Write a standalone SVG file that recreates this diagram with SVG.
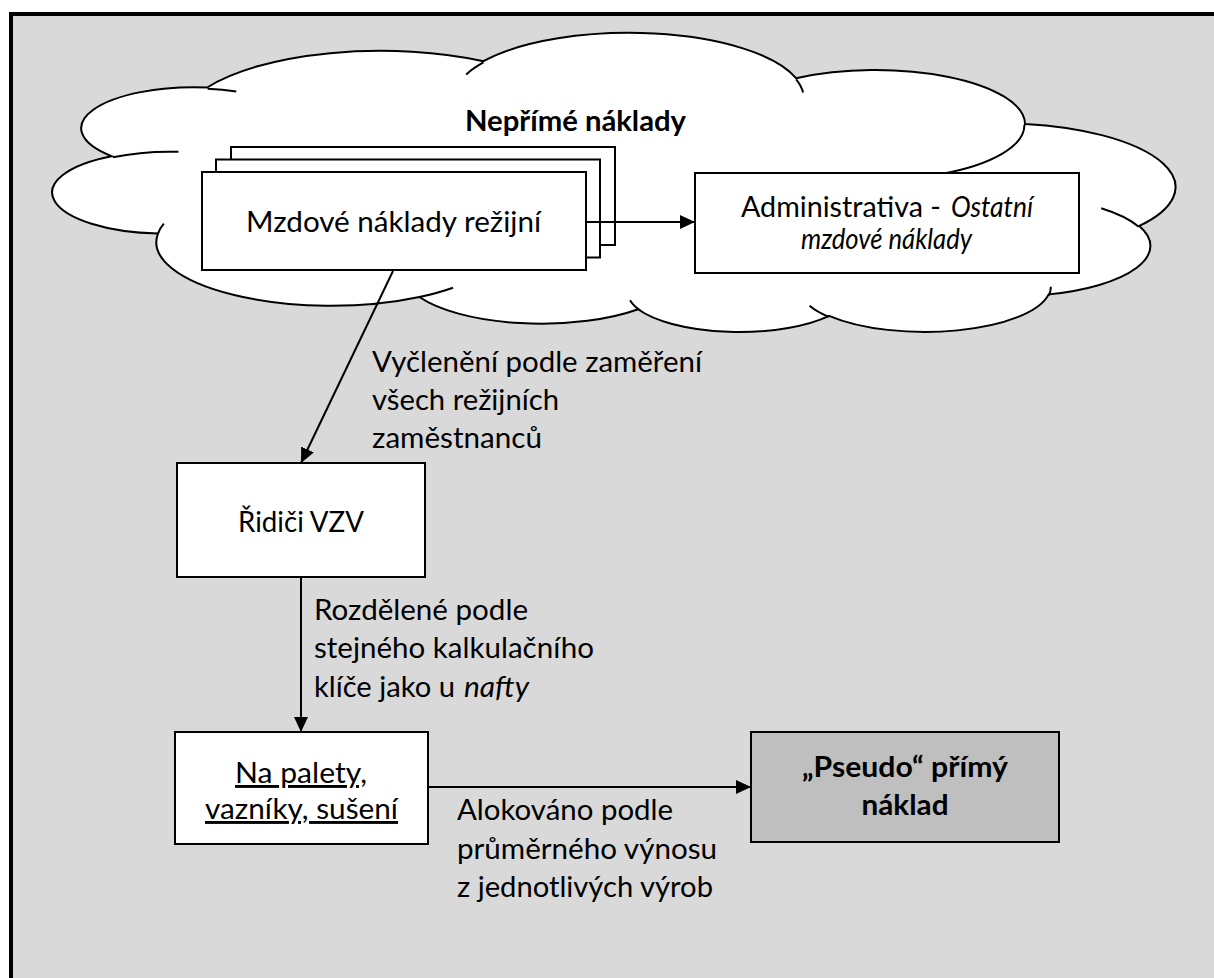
<svg xmlns="http://www.w3.org/2000/svg" width="1214" height="978" viewBox="0 0 1214 978">
  <defs>
    <style>
      .t { font-family: Lato, "Liberation Sans", sans-serif; font-size: 29px; fill: #000; }
      .b { font-weight: 700; }
      .i { font-style: italic; }
      .box { fill: #fff; stroke: #000; stroke-width: 2; }
      .grey { fill: #bfbfbf; stroke: #000; stroke-width: 2; }
      .link { fill: none; stroke: #000; stroke-width: 2; }
      .cloud { fill: #fff; stroke: #000; stroke-width: 2; vector-effect: non-scaling-stroke; }
      .tick { fill: none; stroke: #000; stroke-width: 2; vector-effect: non-scaling-stroke; }
    </style>
    <marker id="arrow" markerUnits="userSpaceOnUse" markerWidth="15" markerHeight="14" refX="15" refY="7" orient="auto">
      <path d="M0,0 L15,7 L0,14 Z" fill="#000"/>
    </marker>
  </defs>

  <!-- page frame -->
  <rect x="0" y="0" width="1214" height="978" fill="#fff"/>
  <rect x="11" y="14" width="1230" height="990" fill="#d9d9d9" stroke="#000" stroke-width="4"/>

  <!-- cloud of indirect costs -->
  <g id="cloud">
    <g transform="translate(57,333) scale(0.025880,-0.0069213)">
      <path class="cloud" d="M3900,14370 A6753,9190 0 0 1 14005,5202 A5333,7267 0 0 1 22457,3433 A4365,5945 0 0 1 29834,2482 A4857,6595 0 0 1 38318,5580 A5333,7273 0 0 1 41818,15464 A6775,9220 0 0 1 37404,30207 A5785,7867 0 0 1 28556,36817 A6752,9215 0 0 1 16478,39264 A7720,10543 0 0 1 5802,35469 A4360,5918 0 0 1 2110,25549 A4345,5945 0 0 1 3900,14370 Z"/>
      <path class="tick" d="M4693,26177 A4345,5945 0 0 1 2159,25379 M6928,34899 A4360,5918 0 0 1 5820,35281 M16478,39090 A6752,9215 0 0 1 15812,37353 M28827,34751 A6752,9215 0 0 1 28560,36660 M34129,22954 A5785,7867 0 0 1 37380,30090 M41798,15354 A5333,7273 0 0 1 40350,18030 M38324,5426 A4857,6595 0 0 1 38400,6689 M29078,3952 A4857,6595 0 0 1 29821,2338 M22141,4720 A4365,5945 0 0 1 22529,3252 M14000,5192 A6753,9190 0 0 1 15302,6543 M4127,15789 A6753,9190 0 0 1 3900,14371"/>
    </g>
    <text class="t b" x="575.5" y="131" text-anchor="middle" textLength="221" lengthAdjust="spacingAndGlyphs">Nepřímé náklady</text>
  </g>

  <!-- overhead wages (stacked) -->
  <g id="mzdove">
    <rect class="box" x="231" y="147" width="384" height="98"/>
    <rect class="box" x="216" y="159.5" width="384" height="98"/>
    <rect class="box" x="202" y="172" width="384" height="98"/>
    <text class="t" x="393.5" y="232" text-anchor="middle" textLength="295" lengthAdjust="spacingAndGlyphs">Mzdové náklady režijní</text>
  </g>

  <!-- administration -->
  <g id="administrativa">
    <rect class="box" x="695" y="173" width="384" height="100"/>
    <text class="t" x="741" y="217" textLength="200" lengthAdjust="spacingAndGlyphs">Administrativa -</text>
    <text class="t i" x="951" y="217" font-size="24" textLength="82" lengthAdjust="spacingAndGlyphs">Ostatní</text>
    <text class="t i" x="886.5" y="249" font-size="24" text-anchor="middle" textLength="171" lengthAdjust="spacingAndGlyphs">mzdové náklady</text>
  </g>

  <!-- forklift drivers -->
  <g id="ridici">
    <rect class="box" x="177" y="463" width="248" height="114"/>
    <text class="t" x="301" y="532" text-anchor="middle" textLength="126" lengthAdjust="spacingAndGlyphs">Řidiči VZV</text>
  </g>

  <!-- pallets, trusses, drying -->
  <g id="palety">
    <rect class="box" x="175" y="732" width="253" height="112"/>
    <text class="t" x="301" y="783" text-anchor="middle" text-decoration="underline" textLength="132" lengthAdjust="spacingAndGlyphs">Na palety,</text>
    <text class="t" x="301.5" y="819" text-anchor="middle" text-decoration="underline" textLength="193" lengthAdjust="spacingAndGlyphs">vazníky, sušení</text>
  </g>

  <!-- pseudo direct cost -->
  <g id="pseudo">
    <rect class="grey" x="751" y="732" width="308" height="110"/>
    <text class="t b" x="905" y="777" text-anchor="middle" textLength="206" lengthAdjust="spacingAndGlyphs">„Pseudo“ přímý</text>
    <text class="t b" x="905" y="815" text-anchor="middle" textLength="87" lengthAdjust="spacingAndGlyphs">náklad</text>
  </g>

  <!-- connectors -->
  <g id="connectors">
    <line class="link" x1="586" y1="222" x2="695" y2="222" marker-end="url(#arrow)"/>
    <line class="link" x1="393" y1="271" x2="301" y2="463" marker-end="url(#arrow)"/>
    <line class="link" x1="301" y1="577" x2="301" y2="732" marker-end="url(#arrow)"/>
    <line class="link" x1="428" y1="787" x2="751" y2="787" marker-end="url(#arrow)"/>
  </g>

  <!-- connector labels -->
  <g id="labels">
    <text class="t" x="372" y="372" textLength="330" lengthAdjust="spacingAndGlyphs">Vyčlenění podle zaměření</text>
    <text class="t" x="372" y="410" textLength="187" lengthAdjust="spacingAndGlyphs">všech režijních</text>
    <text class="t" x="372" y="448" textLength="170" lengthAdjust="spacingAndGlyphs">zaměstnanců</text>

    <text class="t" x="314" y="620" textLength="214" lengthAdjust="spacingAndGlyphs">Rozdělené podle</text>
    <text class="t" x="314" y="658" textLength="280" lengthAdjust="spacingAndGlyphs">stejného kalkulačního</text>
    <text class="t" x="314" y="697" textLength="141" lengthAdjust="spacingAndGlyphs">klíče jako u</text>
    <text class="t i" x="464" y="697" textLength="65" lengthAdjust="spacingAndGlyphs">nafty</text>

    <text class="t" x="457" y="820" textLength="216" lengthAdjust="spacingAndGlyphs">Alokováno podle</text>
    <text class="t" x="457" y="859" textLength="260" lengthAdjust="spacingAndGlyphs">průměrného výnosu</text>
    <text class="t" x="457" y="897" textLength="256" lengthAdjust="spacingAndGlyphs">z jednotlivých výrob</text>
  </g>
</svg>
